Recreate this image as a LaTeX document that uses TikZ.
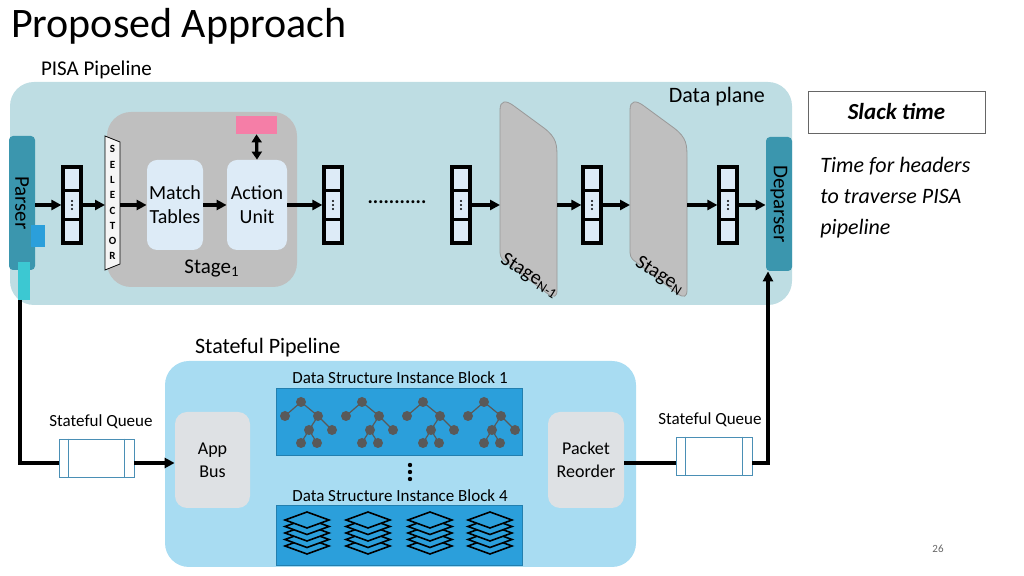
\documentclass[tikz,border=0pt]{standalone}
\usepackage{fontspec}
\setmainfont{Carlito}
\usetikzlibrary{arrows.meta,shapes.geometric}
\definecolor{dp}{HTML}{BEDDE3}
\definecolor{parser}{HTML}{3B96AE}
\definecolor{stg}{HTML}{BFBFBF}
\definecolor{cell}{HTML}{DDEBF7}
\definecolor{sp}{HTML}{A8DCF2}
\definecolor{blk}{HTML}{2B9FDB}
\definecolor{gbox}{HTML}{DEE1E4}
\definecolor{qb}{HTML}{4A8FB5}
\definecolor{cyn}{HTML}{3CC8D2}
\tikzset{
 arr/.style={line width=1.6pt,-{Triangle[length=5pt,width=5pt]}},
 tn/.style={circle,fill=black!65,inner sep=0pt,minimum size=5pt},
 lbl/.style={font=\fontsize{8.5}{10}\selectfont},
}
\newcommand{\qstack}[2]{%
 \node[draw,line width=1.6pt,fill=cell,minimum width=9pt,minimum height=38pt,inner sep=0pt] (#1) at (#2,205) {};
 \draw[line width=1.6pt] ([yshift=-12.7pt]#1.north west) -- ([yshift=-12.7pt]#1.north east)
   ([yshift=12.7pt]#1.south west) -- ([yshift=12.7pt]#1.south east);
 \foreach \d in {-4,0,4} \fill ([yshift=\d*0.5pt]#1.center) circle (0.6pt);}
\newcommand{\dtree}[1]{%
 \begin{scope}[shift={(#1,0)}]
 \draw[black!65,line width=0.6pt] (285,416)--(301,402)--(318,416)--(332,430) (318,416)--(309,430)--(301,443) (309,430)--(317,443);
 \foreach \p in {(301,402),(285,416),(318,416),(309,430),(332,430),(301,443),(317,443)} \node[tn] at \p {};
 \end{scope}}
\newcommand{\dstack}[1]{%
 \foreach \k in {4,3,2,1,0} \draw[line width=0.8pt,fill=blk] (#1-22,520+6.5*\k)--(#1,512+6.5*\k)--(#1+22,520+6.5*\k)--(#1,528+6.5*\k)--cycle;}
\begin{document}
\begin{tikzpicture}[x=0.5pt,y=-0.5pt]
\useasboundingbox (0,0) rectangle (1024,576);
\node[anchor=west,font=\fontsize{21}{24}\selectfont] at (4,26) {Proposed Approach};
\node[anchor=west,font=\fontsize{10.5}{12}\selectfont] at (34,70) {PISA Pipeline};
% data plane
\fill[dp,rounded corners=12pt] (10,82) rectangle (792,305);
\node[anchor=east,font=\fontsize{11}{12}\selectfont] at (772,97) {Data plane};
\node[draw=none,fill=parser,rounded corners=2pt,minimum width=13pt,minimum height=67pt,inner sep=0pt] (parser) at (22,203) {};
\node[rotate=-90,font=\fontsize{10.5}{12}\selectfont] at (parser) {Parser};
\fill[blk] (31,225) rectangle (45,247);
\fill[cyn] (18,262) rectangle (30,300);
\node[fill=parser,rounded corners=2pt,minimum width=13pt,minimum height=67pt,inner sep=0pt] (dep) at (779,204) {};
\node[rotate=-90,font=\fontsize{10.5}{12}\selectfont] at (dep) {Deparser};
% stage 1
\fill[stg,rounded corners=12pt] (107,112) rectangle (297,287);
\node[font=\fontsize{10.5}{12}\selectfont] at (212,268) {Stage\textsubscript{1}};
\draw[fill=white!85!stg] (105,136)--(120,142)--(120,264)--(105,270)--cycle;
\foreach \c [count=\i] in {S,E,L,E,C,T,O,R} \node[font=\bfseries\fontsize{5.5}{6}\selectfont,inner sep=0pt] at (112.5,134+15.3*\i) {\c};
\node[fill=cell,rounded corners=5pt,minimum width=28pt,minimum height=45pt,align=center,font=\fontsize{10}{12}\selectfont,inner sep=0pt] (mt) at (175,205) {Match\\Tables};
\node[fill=cell,rounded corners=5pt,minimum width=30pt,minimum height=45pt,align=center,font=\fontsize{10}{12}\selectfont,inner sep=0pt] (au) at (257,205) {Action\\Unit};
\node[fill=magenta!35!pink,minimum width=20.5pt,minimum height=9pt,inner sep=0pt] (pink) at (256.5,125) {};
\draw[line width=1.6pt,{Triangle[length=4pt,width=5pt]}-{Triangle[length=4pt,width=5pt]}] (pink.south) -- (au.north);
% queues
\qstack{q1}{72}\qstack{q2}{333}\qstack{q3}{461}\qstack{q4}{592}\qstack{q5}{728}
\node[font=\bfseries\fontsize{10}{10}\selectfont] at (397,202) {...........};
% stages N-1, N
\foreach \x/\n/\s in {500/sn1/{N-1},630/sn/{N}}{
 \draw[black!40,fill=stg] (\x,110) .. controls (\x,100) and (\x+6,100) .. (\x+14,106) -- (\x+44,128) .. controls (\x+57,138) and (\x+57,145) .. (\x+57,158) -- (\x+57,290) .. controls (\x+57,297) and (\x+54,298) .. (\x+48,294) -- (\x+6,262) .. controls (\x,258) and (\x,256) .. (\x,248) -- cycle;
 \node (\n) at (\x+28,205) {};
 \node[rotate=-32,font=\fontsize{10}{12}\selectfont] at (\x+30,276) {Stage\textsubscript{\s}};}
% arrows
\draw[arr] (parser.east|-q1) -- (q1.west);
\draw[arr] (q1.east) -- (105,205);
\draw[arr] (120,205) -- (mt.west);
\draw[arr] (mt.east) -- (au.west);
\draw[arr] (au.east) -- (q2.west);
\draw[arr] (q3.east) -- (500,205);
\draw[arr] (557,205) -- (q4.west);
\draw[arr] (q4.east) -- (630,205);
\draw[arr] (687,205) -- (q5.west);
\draw[arr] (q5.east) -- (dep.west|-q5);
% slack
\node[draw=black!60,minimum width=88.5pt,minimum height=21pt,font=\bfseries\itshape\fontsize{11.5}{12}\selectfont] (slack) at (896.5,112) {Slack time};
\node[anchor=north west,align=left,font=\itshape\fontsize{11}{15.5}\selectfont,inner sep=0pt] at (820,157) {Time for headers\\to traverse PISA\\pipeline};
% stateful pipeline
\node[anchor=west,font=\fontsize{11}{12}\selectfont] at (188,348) {Stateful Pipeline};
\fill[sp,rounded corners=12pt] (165,361) rectangle (636,567);
\node[fill=gbox,rounded corners=6pt,minimum width=37.5pt,minimum height=48pt,align=center,font=\fontsize{9}{11.5}\selectfont] (app) at (212.5,460) {App\\Bus};
\node[fill=gbox,rounded corners=6pt,minimum width=38pt,minimum height=48pt,align=center,font=\fontsize{9}{11.5}\selectfont] (reo) at (586,460) {Packet\\Reorder};
\node[lbl] at (400,378) {Data Structure Instance Block 1};
\fill[blk,draw=blk!80!black,line width=0.4pt] (276,388) rectangle (522,455);
\dtree{0}\dtree{61}\dtree{122}\dtree{183}
\foreach \yy in {465,472,479} \fill (410,\yy) circle (1.1pt);
\node[lbl] at (400,496) {Data Structure Instance Block 4};
\fill[blk,draw=blk!80!black,line width=0.4pt] (276,505) rectangle (522,565);
\dstack{307}\dstack{368}\dstack{430}\dstack{490}
% queues
\node[lbl] at (101,422) {Stateful Queue};
\node[draw=qb,fill=white,minimum width=37.5pt,minimum height=19pt,inner sep=0pt] (sq1) at (96.5,458) {};
\draw[qb] ([xshift=5pt]sq1.north west)--([xshift=5pt]sq1.south west) ([xshift=-5pt]sq1.north east)--([xshift=-5pt]sq1.south east);
\node[lbl] at (710,420) {Stateful Queue};
\node[draw=qb,fill=white,minimum width=38pt,minimum height=19pt,inner sep=0pt] (sq2) at (714,456) {};
\draw[qb] ([xshift=5pt]sq2.north west)--([xshift=5pt]sq2.south west) ([xshift=-5pt]sq2.north east)--([xshift=-5pt]sq2.south east);
\coordinate (c1) at (20,463);
\coordinate (c2) at (768,463);
\draw[line width=1.6pt] (20,300) -- (c1) -- (sq1.west|-c1);
\draw[arr] (sq1.east|-c1) -- (app.west|-c1);
\draw[line width=1.6pt] (reo.east|-c1) -- (sq2.west|-c1);
\draw[arr] (sq2.east|-c1) -- (c2) -- (dep.south-|c2);
\node[text=black!60,font=\fontsize{5.5}{6}\selectfont] at (938,549) {26};
\end{tikzpicture}
\end{document}
